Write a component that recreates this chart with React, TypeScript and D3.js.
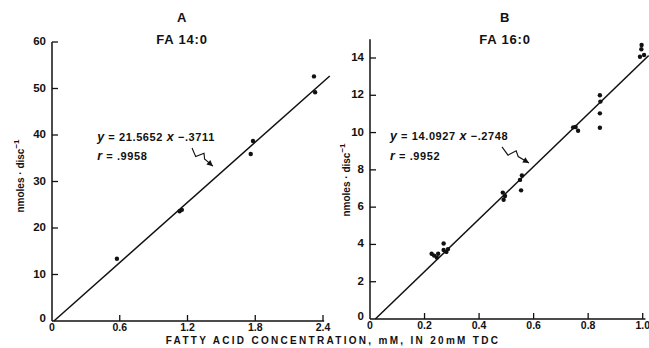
import React, { useEffect } from "react";
import * as d3 from "d3";

// Panel A: FA 14:0
const xTicksA = [0, 0.6, 1.2, 1.8, 2.4];
const yTicksA = [0, 10, 20, 30, 40, 50, 60];
const pointsAx = [0.575, 1.13, 1.15, 1.76, 1.78, 2.32, 2.33];
const pointsAy = [13.4, 23.6, 23.9, 35.9, 38.7, 52.6, 49.2];
const fitA = { slope: 21.5652, intercept: -0.3711, xEnd: 2.46 };

// Panel B: FA 16:0
const xTicksB = [0, 0.2, 0.4, 0.6, 0.8, 1.0];
const yTicksB = [0, 2, 4, 6, 8, 10, 12, 14];
const pointsBx = [0.226, 0.235, 0.245, 0.25, 0.27, 0.27, 0.286, 0.28, 0.487, 0.49, 0.495, 0.55, 0.557, 0.554, 0.745, 0.754, 0.763, 0.843, 0.845, 0.843, 0.843, 0.996, 0.995, 0.99, 1.005];
const pointsBy = [3.5, 3.4, 3.3, 3.5, 4.05, 3.7, 3.75, 3.6, 6.78, 6.4, 6.6, 7.46, 7.7, 6.9, 10.28, 10.3, 10.1, 12.0, 11.66, 11.03, 10.26, 14.7, 14.47, 14.07, 14.16];
const fitB = { slope: 14.0927, intercept: -0.2748, xEnd: 1.022 };

const FONT = "'Liberation Sans', Arial, sans-serif";

type PanelProps = {
  letter: string;
  title: string;
  xTicks: number[];
  yTicks: number[];
  xDomain: [number, number];
  xRange: [number, number];
  yDomain: [number, number];
  yRange: [number, number];
  yAxisTop: number;
  xAxisEnd: number;
  px: number[];
  py: number[];
  fit: { slope: number; intercept: number; xEnd: number };
  eq: string;
  rText: string;
  textPos: [number, number, number];
  arrow: [number, number, number, number];
  titleX: number;
  yLabelX: number;
  yLabelY: number;
};

function Panel(p: PanelProps) {
  const x = d3.scaleLinear().domain(p.xDomain).range(p.xRange);
  const y = d3.scaleLinear().domain(p.yDomain).range(p.yRange);
  const x0 = x(0);
  const y0 = y(0);
  const xStart = -p.fit.intercept / p.fit.slope;
  const lineGen = d3
    .line<number>()
    .x((d) => x(d))
    .y((d) => y(p.fit.slope * d + p.fit.intercept));
  const [ax1, ay1, ax2, ay2] = p.arrow;
  const sx = x(ax1), sy = y(ay1), ex = x(ax2), ey = y(ay2);
  const dx = ex - sx, dy = ey - sy;
  const len = Math.sqrt(dx * dx + dy * dy);
  const ux = dx / len, uy = dy / len;
  const nx = -uy, ny = ux;
  const pt = (t: number, o: number) => [sx + ux * len * t + nx * o, sy + uy * len * t + ny * o];
  const a = pt(0.3, 4), b = pt(0.45, -4), c = pt(0.6, 0);
  const squiggle = `M${sx},${sy} L${a[0]},${a[1]} L${b[0]},${b[1]} L${c[0]},${c[1]} L${ex},${ey}`;
  const head1 = [ex - ux * 6 + nx * 3, ey - uy * 6 + ny * 3];
  const head2 = [ex - ux * 6 - nx * 3, ey - uy * 6 - ny * 3];
  const [rA, rB] = p.rText.split("|");
  return (
    <g fontFamily={FONT} fontWeight="bold" fill="#111">
      <text x={p.titleX} y={19} textAnchor="middle" dominantBaseline="middle" fontSize={13} letterSpacing={0.8}>{p.letter}</text>
      <text x={p.titleX} y={41} textAnchor="middle" dominantBaseline="middle" fontSize={13} letterSpacing={0.8}>{p.title}</text>
      <line x1={x0} x2={x0} y1={y0} y2={y(p.yAxisTop)} stroke="#111" strokeWidth={1.5} />
      <line x1={x0} x2={x(p.xAxisEnd)} y1={y0} y2={y0} stroke="#111" strokeWidth={1.5} />
      {p.yTicks.map((t) => (
        <g key={"y" + t}>
          {t !== 0 && <line x1={x0} x2={x0 + 6} y1={y(t)} y2={y(t)} stroke="#111" strokeWidth={1.3} />}
          <text x={x0 - 6} y={y(t) + (t === 0 ? -2 : 0)} textAnchor="end" dominantBaseline="middle" fontSize={11.5}>{String(t)}</text>
        </g>
      ))}
      {p.xTicks.map((t) => (
        <g key={"x" + t}>
          {t !== 0 && <line x1={x(t)} x2={x(t)} y1={y0} y2={y0 - 6} stroke="#111" strokeWidth={1.3} />}
          <text x={x(t)} y={y0 + 7} textAnchor="middle" dominantBaseline="middle" fontSize={10.5}>{t === 0 ? "0" : t.toFixed(1)}</text>
        </g>
      ))}
      <text transform={`translate(${p.yLabelX},${p.yLabelY}) rotate(-90)`} textAnchor="middle" dominantBaseline="middle" fontSize={10}>
        nmoles · disc<tspan dy={-4} fontSize={8}>−1</tspan>
      </text>
      <path d={lineGen([Math.max(0, xStart), p.fit.xEnd]) || ""} stroke="#111" strokeWidth={1.5} fill="none" />
      {p.px.map((v, i) => (
        <circle key={i} cx={x(v)} cy={y(p.py[i])} r={2.2} fill="#111" />
      ))}
      <text x={x(p.textPos[0])} y={y(p.textPos[1])} dominantBaseline="middle" fontSize={11} letterSpacing={0.6}>
        <tspan fontStyle="italic" fontSize={12.5}>y</tspan>
        <tspan>{" = " + p.eq + " "}</tspan>
        <tspan fontStyle="italic" fontSize={12.5}>x</tspan>
        <tspan>{"  −" + rA}</tspan>
      </text>
      <text x={x(p.textPos[0])} y={y(p.textPos[2])} dominantBaseline="middle" fontSize={11} letterSpacing={0.6}>
        <tspan fontStyle="italic" fontSize={12.5}>r</tspan>
        <tspan>{" = " + rB}</tspan>
      </text>
      <path d={squiggle} stroke="#111" strokeWidth={1.1} fill="none" />
      <path d={`M${ex},${ey} L${head1[0]},${head1[1]} L${head2[0]},${head2[1]} Z`} fill="#111" />
    </g>
  );
}

export default function App() {
  useEffect(() => {
    document.body.style.margin = "0";
  }, []);
  return (
    <svg width={649} height={348} style={{ position: "absolute", left: 0, top: 0, background: "#fff" }}>
      <rect width={649} height={348} fill="#fff" />
      <Panel
        letter="A"
        title="FA 14:0"
        xTicks={xTicksA}
        yTicks={yTicksA}
        xDomain={[0, 2.4]}
        xRange={[52, 323]}
        yDomain={[0, 60]}
        yRange={[321, 42]}
        yAxisTop={60}
        xAxisEnd={2.41}
        px={pointsAx}
        py={pointsAy}
        fit={fitA}
        eq="21.5652"
        rText=".3711|.9958"
        textPos={[0.4, 39.4, 35.3]}
        arrow={[1.24, 37.2, 1.425, 33.3]}
        titleX={182}
        yLabelX={21}
        yLabelY={176}
      />
      <Panel
        letter="B"
        title="FA 16:0"
        xTicks={xTicksB}
        yTicks={yTicksB}
        xDomain={[0, 1]}
        xRange={[370, 642.7]}
        yDomain={[0, 14]}
        yRange={[319, 58]}
        yAxisTop={15}
        xAxisEnd={1.01}
        px={pointsBx}
        py={pointsBy}
        fit={fitB}
        eq="14.0927"
        rText=".2748|.9952"
        textPos={[0.073, 9.76, 8.69]}
        arrow={[0.484, 9.23, 0.583, 8.37]}
        titleX={505}
        yLabelX={347}
        yLabelY={180}
      />
      <text x={333} y={341} textAnchor="middle" dominantBaseline="middle" fontFamily={FONT} fontWeight="bold" fontSize={10} letterSpacing={2.3} fill="#111">
        FATTY ACID CONCENTRATION, mM, IN 20mM TDC
      </text>
    </svg>
  );
}
